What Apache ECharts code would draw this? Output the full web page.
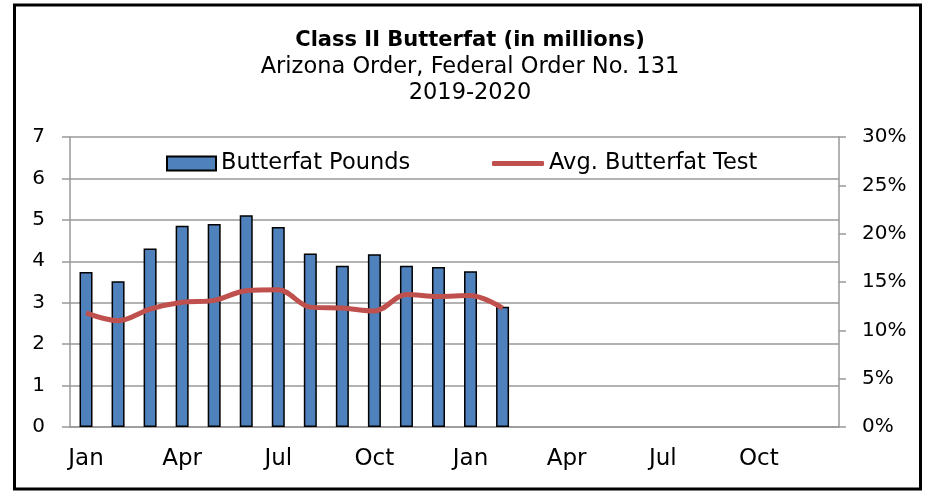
<!DOCTYPE html>
<html>
<head>
<meta charset="utf-8">
<script src="https://cdn.jsdelivr.net/npm/echarts@6/dist/echarts.min.js"></script>
<style>
  html, body { margin: 0; padding: 0; background: #fff; }
  #chart { width: 930px; height: 494px; }
</style>
</head>
<body>
<div id="chart"></div>
<script>
// 月份（2019-2020），只标注每三个月
const months = ['Jan', 'Feb', 'Mar', 'Apr', 'May', 'Jun', 'Jul', 'Aug', 'Sep', 'Oct', 'Nov', 'Dec',
  'Jan', 'Feb', 'Mar', 'Apr', 'May', 'Jun', 'Jul', 'Aug', 'Sep', 'Oct', 'Nov', 'Dec'];
// 乳脂磅数（百万）
const pounds = [3.74, 3.52, 4.31, 4.86, 4.90, 5.11, 4.83, 4.19, 3.89, 4.17, 3.89, 3.86, 3.76, 2.90];
// 平均乳脂检测（%）
const fatTest = [11.8, 11.0, 12.2, 12.9, 13.1, 14.1, 14.2, 12.4, 12.3, 12.0, 13.7, 13.5, 13.6, 12.3];
const titleLines = ['Class II Butterfat (in millions)', 'Arizona Order, Federal Order No. 131', '2019-2020'];

(function () {
  const myChart = echarts.init(document.getElementById('chart'));
  const font = 'DejaVu Sans';
  const gridColor = '#999';

  const option = {
    textStyle: { fontFamily: font, color: '#000' },
    // 标题分三行，各自定位
    title: [
      {
        text: titleLines[0],
        left: 470,
        top: 29,
        textAlign: 'center',
        padding: 0,
        textStyle: { fontFamily: font, fontSize: 21, lineHeight: 24, fontWeight: 'bold', color: '#000' },
      },
      {
        text: titleLines[1],
        left: 470,
        top: 54,
        textAlign: 'center',
        padding: 0,
        textStyle: { fontFamily: font, fontSize: 22.5, lineHeight: 26, fontWeight: 'normal', color: '#000' },
      },
      {
        text: titleLines[2],
        left: 470,
        top: 80,
        textAlign: 'center',
        padding: 0,
        textStyle: { fontFamily: font, fontSize: 22.5, lineHeight: 26, fontWeight: 'normal', color: '#000' },
      },
    ],
    legend: [
      {
        top: 147,
        left: 161,
        itemWidth: 49,
        itemHeight: 14,
        textStyle: { fontFamily: font, fontSize: 22.5, color: '#000' },
        data: [{ name: 'Butterfat Pounds', icon: 'rect' }],
      },
      {
        top: 147,
        left: 487,
        itemWidth: 52,
        itemHeight: 5,
        textStyle: { fontFamily: font, fontSize: 22.5, color: '#000' },
        data: [{ name: 'Avg. Butterfat Test', icon: 'roundRect', itemStyle: { color: '#C0504D' } }],
      },
    ],
    grid: {
      left: 70,
      right: 91,
      top: 137,
      bottom: 67,
    },
    xAxis: {
      type: 'category',
      data: months,
      axisLine: { lineStyle: { color: gridColor, width: 1.5 } },
      axisTick: { interval: 2, length: 7, lineStyle: { color: gridColor, width: 1.5 } },
      axisLabel: { interval: 2, fontSize: 23, color: '#000', margin: 21 },
    },
    yAxis: [
      {
        type: 'value',
        min: 0,
        max: 7,
        interval: 1,
        axisLine: { show: true, lineStyle: { color: gridColor, width: 1.5 } },
        axisTick: { show: true, length: 8, lineStyle: { color: gridColor, width: 1.5 } },
        axisLabel: { fontSize: 20, color: '#000', margin: 25 },
        splitLine: { lineStyle: { color: gridColor, width: 1.5 } },
      },
      {
        type: 'value',
        min: 0,
        max: 30,
        interval: 5,
        axisLine: { show: true, lineStyle: { color: gridColor, width: 1.5 } },
        axisTick: { show: true, length: 7, lineStyle: { color: gridColor, width: 1.5 } },
        axisLabel: { fontSize: 20, color: '#000', margin: 23, formatter: '{value}%' },
        splitLine: { show: false },
      },
    ],
    series: [
      {
        name: 'Butterfat Pounds',
        type: 'bar',
        barWidth: 13,
        data: pounds,
        itemStyle: { color: '#4F81BD', borderColor: '#000', borderWidth: 1.5 },
      },
      {
        name: 'Avg. Butterfat Test',
        type: 'line',
        yAxisIndex: 1,
        smooth: 0.35,
        symbol: 'none',
        data: fatTest,
        lineStyle: { color: '#C0504D', width: 5 },
        itemStyle: { color: '#C0504D' },
      },
    ],
    graphic: [
      {
        type: 'rect',
        shape: { x: 14.5, y: 5, width: 906, height: 484 },
        style: { fill: 'none', stroke: '#000', lineWidth: 3 },
        silent: true,
      },
    ],
  };

  myChart.setOption(option);

  window.addEventListener('resize', () => {
    myChart.resize();
  });
})();
</script>
</body>
</html>
